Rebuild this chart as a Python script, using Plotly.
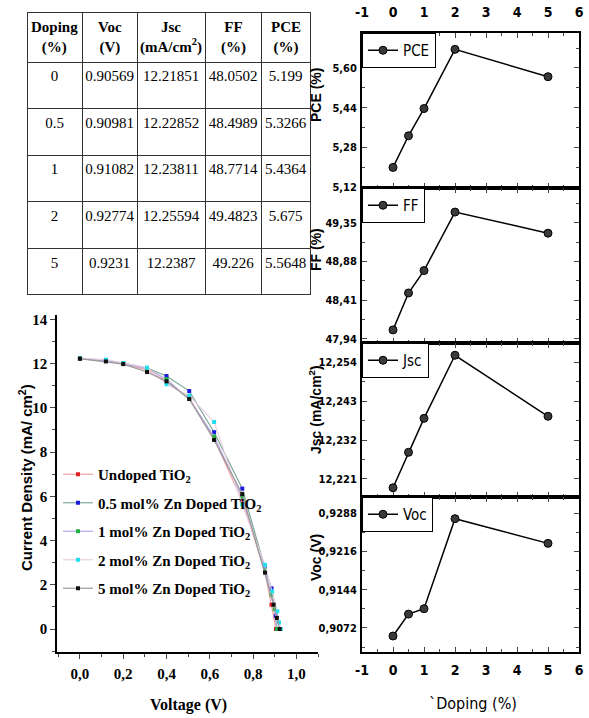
import plotly.graph_objects as go

W, H = 589, 718

# ---------------- Table data ----------------
table_header = ["Doping<br>(%)", "Voc<br>(V)", "Jsc<br>(mA/cm<sup>2</sup>)", "FF<br>(%)", "PCE<br>(%)"]
doping_txt = ["0", "0.5", "1", "2", "5"]
voc_txt = ["0.90569", "0.90981", "0.91082", "0.92774", "0.9231"]
jsc_txt = ["12.21851", "12.22852", "12.23811", "12.25594", "12.2387"]
ff_txt = ["48.0502", "48.4989", "48.7714", "49.4823", "49.226"]
pce_txt = ["5.199", "5.3266", "5.4364", "5.675", "5.5648"]

doping = [float(v) for v in doping_txt]
voc = [float(v) for v in voc_txt]
jsc = [float(v) for v in jsc_txt]
ff = [float(v) for v in ff_txt]
pce = [float(v) for v in pce_txt]

# ---------------- J-V data ----------------
jv_names = ["Undoped TiO<sub>2</sub>", "0.5 mol% Zn Doped TiO<sub>2</sub>", "1 mol% Zn Doped TiO<sub>2</sub>",
            "2 mol% Zn Doped TiO<sub>2</sub>", "5 mol% Zn Doped TiO<sub>2</sub>"]
v_undoped = [0, 0.12, 0.2, 0.31, 0.4, 0.505, 0.62, 0.75, 0.855, 0.885, 0.9057]
j_undoped = [12.22, 12.12, 12.0, 11.72, 11.2, 10.45, 8.6, 5.8, 2.6, 1.1, 0]
v_05 = [0, 0.12, 0.2, 0.31, 0.4, 0.505, 0.62, 0.75, 0.855, 0.885, 0.905, 0.9098]
j_05 = [12.22, 12.15, 12.02, 11.8, 11.44, 10.76, 8.9, 6.35, 2.75, 1.84, 0.6, 0]
v_1 = [0, 0.12, 0.2, 0.31, 0.4, 0.505, 0.62, 0.75, 0.855, 0.885, 0.9, 0.9108]
j_1 = [12.24, 12.14, 12.0, 11.78, 11.3, 10.4, 8.7, 5.98, 2.65, 1.55, 0.9, 0]
v_2 = [0, 0.12, 0.2, 0.31, 0.4, 0.505, 0.62, 0.75, 0.855, 0.888, 0.912, 0.92, 0.9277]
j_2 = [12.25, 12.18, 12.03, 11.82, 11.07, 10.55, 9.36, 5.62, 2.9, 1.7, 0.8, 0.3, 0]
v_5 = [0, 0.12, 0.2, 0.31, 0.4, 0.505, 0.62, 0.75, 0.855, 0.895, 0.91, 0.9231]
j_5 = [12.23, 12.1, 11.98, 11.62, 11.2, 10.4, 8.55, 6.1, 2.55, 1.1, 0.5, 0]
jv_v = [v_undoped, v_05, v_1, v_2, v_5]
jv_j = [j_undoped, j_05, j_1, j_2, j_5]
jv_line_colors = ["#f2a0a0", "#7fa898", "#b0a8e8", "#e8d0e0", "#9a9a9a"]
jv_marker_colors = ["#e02020", "#1a1ae0", "#20b040", "#20e0f0", "#101010"]

# right panel tick values
x_ticks = [-1, 0, 1, 2, 3, 4, 5, 6]
x_ticktext = ["-1", "0", "1", "2", "3", "4", "5", "6"]
pce_ticks = [5.12, 5.28, 5.44, 5.60]
ff_ticks = [47.94, 48.41, 48.88, 49.35]
jsc_ticks = [12.221, 12.232, 12.243, 12.254]
voc_ticks = [0.9072, 0.9144, 0.9216, 0.9288]

SERIF = "Liberation Serif, Times New Roman, serif"
NARROW = "DejaVu Sans Condensed, Liberation Sans Narrow, Arial Narrow, Liberation Sans, sans-serif"
SANS = "Liberation Sans, Arial, sans-serif"

fig = go.Figure()

# ---------------- Table ----------------
col_w = [55, 55, 68, 56, 49]
tbl_x0, tbl_x1 = 27, 310
fig.add_trace(go.Table(
    domain=dict(x=[tbl_x0 / W, tbl_x1 / W], y=[1 - 296 / H, 1 - 12 / H]),
    columnwidth=col_w,
    header=dict(values=[""] * len(table_header), height=50, align="center",
                line=dict(color="#333", width=1), fill=dict(color="white"),
                font=dict(family=SERIF, size=15, color="black", weight="bold")),
    cells=dict(values=[doping_txt, voc_txt, jsc_txt, ff_txt, pce_txt], height=46.6, align="center",
               line=dict(color="#333", width=1), fill=dict(color="white"),
               font=dict(family=SERIF, size=15, color="black")),
))

# ---------------- J-V curves ----------------
for i in range(5):
    fig.add_trace(go.Scatter(
        x=jv_v[i], y=jv_j[i], mode="lines+markers", name=jv_names[i],
        legendgroup="g%d" % i,
        line=dict(color=jv_line_colors[i], width=1.2),
        marker=dict(symbol="square", size=4, color=jv_marker_colors[i]),
        xaxis="x", yaxis="y", legend="legend",
    ))

# ---------------- Right panels ----------------
panels = [
    ("PCE", pce, "x2", "y2", "legend2"),
    ("FF", ff, "x3", "y3", "legend3"),
    ("Jsc", jsc, "x4", "y4", "legend4"),
    ("Voc", voc, "x5", "y5", "legend5"),
]
for name, vals, xa, ya, lg in panels:
    fig.add_trace(go.Scatter(
        x=doping, y=vals, mode="lines+markers", name=name,
        line=dict(color="black", width=1.5),
        marker=dict(symbol="circle", size=8, color="#3a3a3a", line=dict(color="black", width=1)),
        xaxis=xa, yaxis=ya, legend=lg,
    ))

common_axis = dict(showgrid=False, zeroline=False, showline=True, linecolor="black",
                   automargin=False)

layout = dict(
    width=W, height=H, template="none",
    margin=dict(l=0, r=0, t=0, b=0, pad=0),
    paper_bgcolor="white", plot_bgcolor="white",
    separators=",.",
    font=dict(family=SERIF, color="black"),
)

# J-V axes
layout["xaxis"] = dict(common_axis, domain=[57 / W, 318 / W], anchor="y", range=[-0.106, 1.1],
                       linewidth=1.5, tickmode="array", tickvals=[0, 0.2, 0.4, 0.6, 0.8, 1.0],
                       tickformat=".1f", ticks="outside", ticklen=5, tickwidth=1.2,
                       minor=dict(tickmode="linear", tick0=0, dtick=0.1, ticks="outside", ticklen=3),
                       tickfont=dict(family=SERIF, size=15, weight="bold"), ticklabelstandoff=2)
layout["yaxis"] = dict(common_axis, domain=[1 - 652 / H, 1 - 315 / H], anchor="x", range=[-1.04, 14.2],
                       linewidth=1.5, tickmode="linear", tick0=0, dtick=2,
                       ticks="outside", ticklen=5, tickwidth=1.2,
                       minor=dict(tickmode="linear", tick0=0, dtick=1, ticks="outside", ticklen=3),
                       tickfont=dict(family=SERIF, size=15, weight="bold"))

# right panel axes
rx = [362 / W, 579 / W]
rdom = {
    "2": [1 - 188 / H, 1 - 33 / H],
    "3": [1 - 343 / H, 1 - 188 / H],
    "4": [1 - 497 / H, 1 - 343 / H],
    "5": [1 - 652 / H, 1 - 497 / H],
}
rrange = {
    "2": [5.116, 5.741],
    "3": [47.891, 49.775],
    "4": [12.2159, 12.2594],
    "5": [0.90269, 0.93181],
}
rticks = {"2": (pce_ticks, ".2f"), "3": (ff_ticks, ".2f"), "4": (jsc_ticks, ".3f"), "5": (voc_ticks, ".4f")}
for k in ["2", "3", "4", "5"]:
    xa = dict(common_axis, domain=rx, anchor="y" + k, range=[-1, 6], linewidth=2,
              mirror="allticks", ticks="inside", ticklen=5, tickwidth=1.2,
              tickmode="array", tickvals=x_ticks, ticktext=x_ticktext,
              minor=dict(tickmode="linear", tick0=-1, dtick=0.5, ticks="inside", ticklen=3),
              tickfont=dict(family=NARROW, size=14, weight="bold"),
              showticklabels=(k in ["2", "5"]))
    if k == "2":
        xa["side"] = "top"
        xa["ticklabelstandoff"] = 8
    else:
        xa["side"] = "bottom"
        xa["ticklabelstandoff"] = 4
    layout["xaxis" + k] = xa
    tv, fmt = rticks[k]
    layout["yaxis" + k] = dict(common_axis, domain=rdom[k], anchor="x" + k, range=rrange[k], linewidth=2,
                               mirror="allticks", ticks="inside", ticklen=5, tickwidth=1.2,
                               tickmode="array", tickvals=tv, tickformat=fmt,
                               minor=dict(tickmode="linear", tick0=tv[0], dtick=(tv[1] - tv[0]) / 2,
                                          ticks="inside", ticklen=3),
                               tickfont=dict(family=NARROW, size=11, weight="bold"),
                               ticklabelstandoff=1)

# legends
layout["legend"] = dict(x=58 / W, y=1 - 458 / H, xanchor="left", yanchor="top",
                        bgcolor="rgba(0,0,0,0)", borderwidth=0, itemwidth=30,
                        traceorder="grouped", tracegroupgap=6,
                        font=dict(family=SERIF, size=15, weight="bold", color="black"))
leg_tops = {"legend2": 33, "legend3": 188, "legend4": 343, "legend5": 497}
for lg, top in leg_tops.items():
    layout[lg] = dict(x=362 / W, y=1 - top / H, xanchor="left", yanchor="top",
                      bgcolor="white", bordercolor="black", borderwidth=1, itemwidth=30,
                      font=dict(family=NARROW, size=15, color="black"))

# annotations (axis titles)
ann = [
    dict(text="Voltage (V)", x=188 / W, y=1 - 705 / H, font=dict(family=SERIF, size=16, weight="bold")),
    dict(text="Current Density (mA/ cm<sup>2</sup>)", x=25 / W, y=1 - 478 / H, textangle=-90,
         font=dict(family=SANS, size=15, weight="bold")),
    dict(text="`Doping (%)", x=473 / W, y=1 - 703 / H, font=dict(family=NARROW, size=16)),
    dict(text="PCE (%)", x=316 / W, y=1 - 95 / H, textangle=-90, font=dict(family=SANS, size=14, weight="bold")),
    dict(text="FF (%)", x=316 / W, y=1 - 250 / H, textangle=-90, font=dict(family=SANS, size=14, weight="bold")),
    dict(text="Jsc (mA/cm<sup>2</sup>)", x=315 / W, y=1 - 410 / H, textangle=-90,
         font=dict(family=SANS, size=14, weight="bold")),
    dict(text="Voc (V)", x=316 / W, y=1 - 558 / H, textangle=-90, font=dict(family=SANS, size=14, weight="bold")),
]
# table header texts, centred in each column
xpos = tbl_x0
for txt, w in zip(table_header, col_w):
    ann.append(dict(text=txt, x=(xpos + w / 2) / W, y=1 - 37 / H, align="center",
                    font=dict(family=SERIF, size=15, weight="bold")))
    xpos += w
for a in ann:
    a.update(xref="paper", yref="paper", showarrow=False, xanchor="center", yanchor="middle")
layout["annotations"] = ann

fig.update_layout(**layout)
fig.write_html("out.html")
